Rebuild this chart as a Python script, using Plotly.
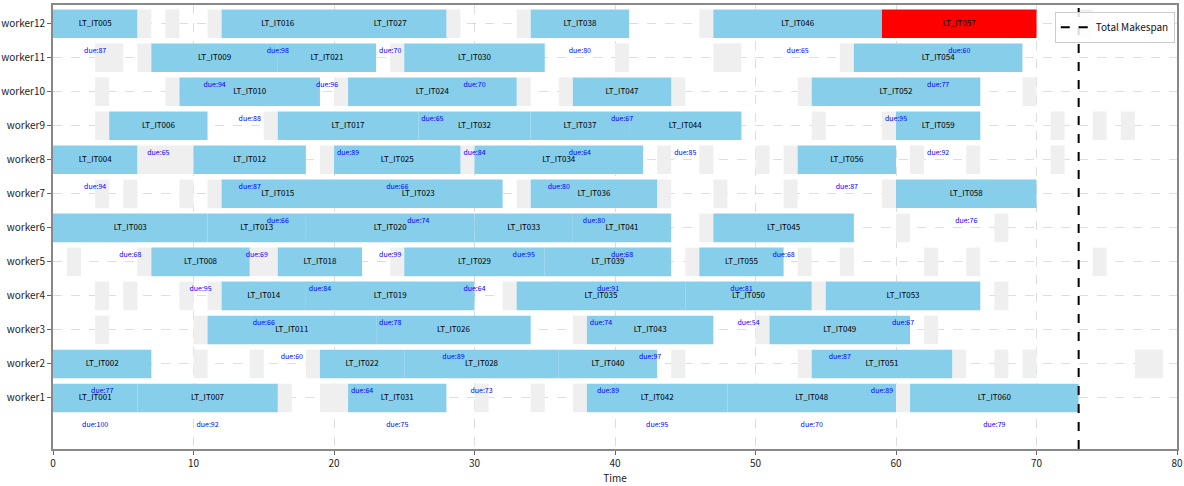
import plotly.graph_objects as go

# ---------------- data ----------------
worker_labels = [f"worker{i}" for i in range(1, 13)]

job_names = [f"LT_IT{i:03d}" for i in range(1, 61)]
job_workers = [1, 2, 6, 8, 12, 9, 1, 5, 11, 10,
               3, 8, 6, 4, 7, 12, 9, 5, 4, 6,
               11, 2, 7, 10, 8, 3, 12, 2, 5, 11,
               1, 9, 6, 8, 4, 7, 9, 12, 5, 2,
               6, 1, 3, 9, 6, 12, 10, 1, 3, 4,
               2, 10, 4, 11, 5, 8, 12, 7, 9, 1]
job_starts = [0, 0, 0, 0, 0, 4, 6, 7, 7, 9,
              11, 10, 11, 12, 12, 12, 16, 16, 18, 18,
              16, 19, 20, 21, 20, 23, 20, 25, 25, 25,
              21, 26, 30, 30, 33, 34, 34, 34, 35, 36,
              37, 38, 38, 41, 47, 47, 37, 48, 51, 45,
              54, 54, 55, 57, 46, 53, 59, 60, 60, 61]
job_ends = [6, 7, 11, 6, 6, 11, 16, 14, 16, 19,
            23, 18, 18, 18, 20, 20, 26, 22, 30, 30,
            23, 25, 32, 33, 29, 34, 28, 36, 35, 35,
            28, 34, 37, 42, 45, 43, 41, 41, 44, 43,
            44, 48, 47, 49, 57, 59, 44, 60, 61, 54,
            64, 66, 66, 69, 52, 60, 70, 70, 66, 73]
job_dues = [100, 77, 68, 94, 87, 65, 92, 95, 94, 88,
            60, 87, 69, 66, 66, 98, 89, 84, 78, 99,
            96, 64, 74, 65, 66, 89, 70, 73, 64, 70,
            75, 84, 95, 80, 74, 80, 64, 80, 91, 89,
            68, 95, 97, 85, 68, 65, 67, 70, 87, 54,
            89, 95, 67, 77, 81, 87, 60, 76, 92, 79]
highlight_job = "LT_IT057"

break_workers = [12, 12, 12, 12, 12, 12, 12,
                 11, 11, 11, 11, 11, 11,
                 10, 10, 10, 10, 10, 10, 10, 10,
                 9, 9, 9, 9, 9, 9, 9,
                 8, 8, 8, 8, 8, 8, 8, 8, 8, 8,
                 7, 7, 7, 7, 7, 7, 7, 7, 7,
                 6, 6, 6,
                 5, 5, 5, 5, 5, 5, 5, 5, 5, 5,
                 4, 4, 4, 4, 4, 4, 4,
                 3, 3, 3, 3, 3,
                 2, 2, 2, 2, 2, 2, 2, 2, 2,
                 1, 1, 1, 1, 1, 1]
break_starts = [6, 8, 11, 28, 33, 46, 73,
                3, 6, 24, 40, 47, 56,
                3, 8, 20, 33, 36, 44, 53, 69,
                3, 15, 54, 59, 71, 74, 76,
                6, 19, 29, 43, 46, 50, 52, 61, 65, 71,
                3, 5, 9, 11, 33, 43, 47, 52, 59,
                46, 60, 67,
                1, 6, 14, 24, 45, 53, 56, 62, 65, 74,
                3, 5, 9, 11, 32, 54, 67,
                3, 10, 37, 50, 62,
                10, 14, 18, 44, 53, 64, 67, 69, 77,
                16, 19, 30, 34, 37, 60]
break_ends = [7, 9, 12, 29, 34, 47, 74,
              5, 7, 25, 41, 49, 57,
              4, 9, 21, 34, 37, 45, 54, 70,
              4, 16, 55, 60, 72, 75, 77,
              10, 20, 30, 44, 47, 51, 53, 62, 66, 72,
              4, 6, 10, 12, 34, 44, 48, 53, 60,
              47, 61, 68,
              2, 7, 16, 25, 46, 54, 57, 63, 66, 75,
              4, 6, 10, 12, 33, 55, 68,
              4, 11, 38, 51, 63,
              11, 15, 19, 45, 54, 65, 68, 70, 79,
              17, 21, 31, 35, 38, 61]

makespan = 73
x_ticks = [0, 10, 20, 30, 40, 50, 60, 70, 80]

# ---------------- figure ----------------
FONT = "Noto Sans CJK JP"
fig = go.Figure()

# unavailable periods
fig.add_trace(go.Bar(
    y=[w - 1 for w in break_workers],
    x=[e - s for s, e in zip(break_starts, break_ends)],
    base=break_starts,
    orientation="h",
    width=0.84,
    marker=dict(color="#efefef", line=dict(width=0)),
    showlegend=False,
    hoverinfo="skip",
))

# jobs
colors = ["#ff0000" if n == highlight_job else "#87ceeb" for n in job_names]
fig.add_trace(go.Bar(
    y=[w - 1 for w in job_workers],
    x=[e - s for s, e in zip(job_starts, job_ends)],
    base=job_starts,
    orientation="h",
    width=0.84,
    marker=dict(color=colors, line=dict(width=0)),
    showlegend=False,
    hovertext=job_names,
))

centers = [(s + e) / 2 for s, e in zip(job_starts, job_ends)]
fig.add_trace(go.Scatter(
    x=centers,
    y=[w - 1 for w in job_workers],
    mode="text",
    text=job_names,
    textfont=dict(family=FONT, size=8, color="black"),
    showlegend=False,
    hoverinfo="skip",
))
fig.add_trace(go.Scatter(
    x=centers,
    y=[w - 1 - 0.8 for w in job_workers],
    mode="text",
    text=[f"due:{d}" for d in job_dues],
    textfont=dict(family=FONT, size=7, color="blue"),
    showlegend=False,
    hoverinfo="skip",
))

fig.add_trace(go.Scatter(
    x=[makespan, makespan],
    y=[-1.5, 11.55],
    mode="lines",
    line=dict(color="black", width=2, dash="dash"),
    name="Total Makespan",
))

fig.update_layout(
    width=1184, height=486,
    margin=dict(l=53, r=7, t=5, b=37, autoexpand=False),
    plot_bgcolor="white", paper_bgcolor="white",
    barmode="overlay",
    font=dict(family=FONT, size=10, color="#222"),
    legend=dict(x=0.998, y=0.985, xanchor="right", yanchor="top",
                bordercolor="#cccccc", borderwidth=1,
                bgcolor="rgba(255,255,255,0.85)",
                itemwidth=30, tracegroupgap=0,
                font=dict(family=FONT, size=10, color="#111")),
)
fig.update_xaxes(
    range=[0, 80], tickvals=x_ticks,
    automargin=False, layer="above traces",
    showgrid=True, gridcolor="rgba(0,0,0,0.13)", griddash="dash", gridwidth=1,
    zeroline=False,
    showline=True, linecolor="#888888", linewidth=2, mirror=True,
    ticks="outside", ticklen=4, tickcolor="#666",
    tickfont=dict(family=FONT, size=10, color="#222"),
    title=dict(text="Time", font=dict(family=FONT, size=10, color="#222"), standoff=2),
)
fig.update_yaxes(
    range=[-1.5, 11.55],
    automargin=False, layer="above traces",
    tickvals=list(range(12)), ticktext=worker_labels,
    showgrid=True, gridcolor="rgba(0,0,0,0.13)", griddash="dash", gridwidth=1,
    zeroline=False,
    showline=True, linecolor="#888888", linewidth=2, mirror=True,
    ticks="outside", ticklen=4, tickcolor="#666",
    tickfont=dict(family=FONT, size=10, color="#222"),
)

fig.write_html("out.html",
               config={"displayModeBar": False},
               post_script="document.body.style.margin='0';document.body.style.overflow='hidden';")
